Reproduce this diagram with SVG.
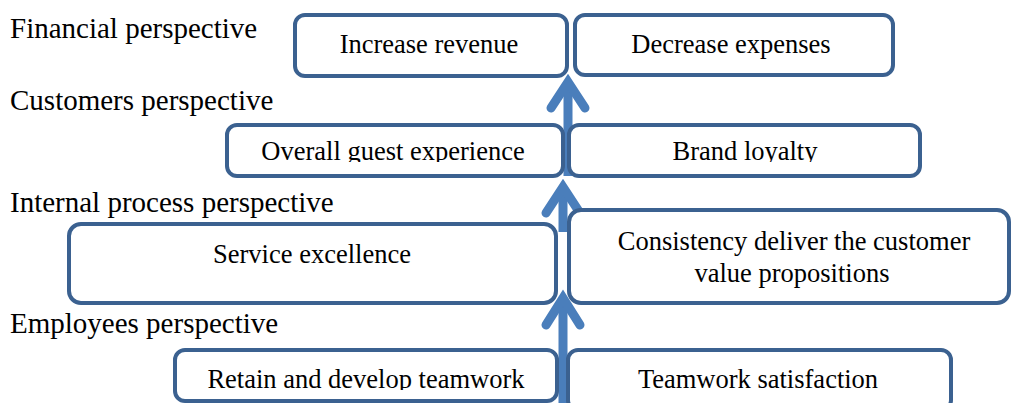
<svg xmlns="http://www.w3.org/2000/svg" width="1012" height="403" viewBox="0 0 1012 403">
<style>
.box{fill:#fff;stroke:#3b6190;stroke-width:4}
.lbl{font-family:"Liberation Serif","Times New Roman",serif;font-size:29px;fill:#000}
.t{font-family:"Liberation Serif","Times New Roman",serif;font-size:26.5px;fill:#000;text-anchor:middle}
.sh{stroke:#4a7ebb;stroke-width:9;fill:none}
.hd{stroke:#4a7ebb;stroke-width:9;fill:none;stroke-linecap:round;stroke-linejoin:miter}
</style>
<defs>
<clipPath id="c1"><rect x="0" y="0" width="1012" height="162"/></clipPath>
<clipPath id="c2"><rect x="0" y="0" width="1012" height="390"/></clipPath>
</defs>
<rect width="1012" height="403" fill="#fff"/>
<g id="labels">
<text class="lbl" x="10" y="38">Financial perspective</text>
<text class="lbl" x="10" y="110">Customers perspective</text>
<text class="lbl" x="10" y="212">Internal process perspective</text>
<text class="lbl" x="10" y="333">Employees perspective</text>
</g>
<g id="connectors">
<line class="sh" x1="568" y1="84" x2="568" y2="176"/>
<polyline class="hd" points="551,108 568,82 585,108"/>
<line class="sh" x1="563" y1="188" x2="563" y2="232"/>
<polyline class="hd" points="546,213 563,187 580,213"/>
<line class="sh" x1="563" y1="299" x2="563" y2="403"/>
<polyline class="hd" points="546,325 563,298 580,325"/>
</g>
<g id="n-increase"><rect class="box" x="295" y="15" width="272" height="61" rx="10"/><text class="t" x="429" y="53">Increase revenue</text></g>
<g id="n-decrease"><rect class="box" x="575" y="15" width="318" height="60" rx="10"/><text class="t" x="731" y="53">Decrease expenses</text></g>
<g id="n-overall"><rect class="box" x="227" y="125" width="336" height="51" rx="10"/><text class="t" x="393" y="160" clip-path="url(#c1)">Overall guest experience</text></g>
<g id="n-brand"><rect class="box" x="569" y="125" width="351" height="51" rx="10"/><text class="t" x="745" y="160" clip-path="url(#c1)">Brand loyalty</text></g>
<g id="n-service"><rect class="box" x="69" y="224" width="487" height="79" rx="12"/><text class="t" x="312" y="263">Service excellence</text></g>
<g id="n-consistency"><rect class="box" x="569" y="210" width="440" height="93" rx="12"/><text class="t" x="794" y="250">Consistency deliver the customer</text><text class="t" x="792" y="282">value propositions</text></g>
<g id="n-retain"><rect class="box" x="175" y="350" width="382" height="51" rx="10"/><text class="t" x="366" y="388" clip-path="url(#c2)">Retain and develop teamwork</text></g>
<g id="n-teamwork"><rect class="box" x="568" y="350" width="383" height="60" rx="10"/><text class="t" x="758" y="388">Teamwork satisfaction</text></g>
</svg>
